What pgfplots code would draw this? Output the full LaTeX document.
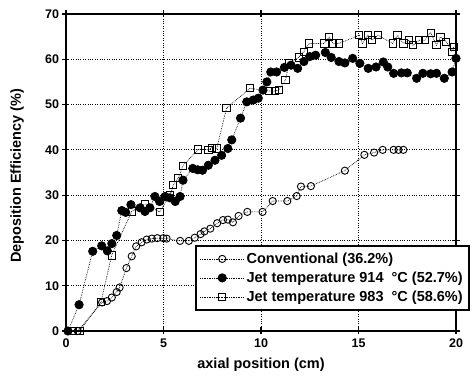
\documentclass[border=0pt]{standalone}
\usepackage{fontspec}
\setmainfont{Liberation Sans}
\usepackage{pgfplots}
\pgfplotsset{compat=1.18}
\begin{document}
\begin{tikzpicture}
\begin{axis}[
  scale only axis, width=390pt, height=317pt,
  at={(0,0)}, anchor=south west,
  xmin=0, xmax=20, ymin=0, ymax=70,
  xtick={0,5,10,15,20}, ytick={0,10,...,70},
  grid=major,
  major grid style={black, dotted, line width=0.8pt},
  axis line style={line width=1.6pt},
  tick style={black, line width=1.2pt},
  tick align=center, major tick length=7pt,
  /pgf/number format/assume math mode=true,
  ticklabel style={font=\fontsize{12.5}{13}\selectfont\bfseries},
  xticklabel style={yshift=-1pt},
  xlabel={axial position (cm)}, ylabel={Deposition Efficiency (\%)},
  label style={font=\fontsize{14.5}{16}\selectfont\bfseries},
  xlabel style={at={(axis description cs:0.5,-0.107)}, anchor=center},
  ylabel style={at={(axis description cs:-0.125,0.49)}, anchor=center},
  legend cell align=left,
  legend style={at={(0.331,0.271)}, anchor=north west, draw=black, line width=1.6pt,
    font=\fontsize{14.5}{16}\selectfont\bfseries, inner xsep=4pt, inner ysep=5pt,
    row sep=3pt, fill=white},
  legend image code/.code={\draw[mark repeat=2,mark phase=2] plot coordinates {(0pt,0pt) (22pt,0pt) (44pt,0pt)};},
]
\addplot[black, densely dotted, line width=0.7pt, mark=o, mark size=3.6pt, mark options={solid, line width=0.9pt, fill=white}] coordinates {
(0.6,0) (1.85,6.3) (2.1,6.6) (2.35,7.4) (2.6,8.6) (2.75,9.6) (3.1,13.9) (3.37,16.5) (3.6,18.7)
(3.88,19.6) (4.14,20.2) (4.4,20.4) (4.68,20.5) (4.99,20.5) (5.16,20.4) (5.85,19.9) (6.3,19.9)
(6.6,20.6) (6.9,21.4) (7.1,22) (7.4,22.6) (7.75,23.8) (8.05,24.5) (8.3,24.6) (8.56,24) (8.85,25.4)
(9.3,26.3) (10.08,26.3) (10.6,28.7) (11.35,28.7) (11.83,29.8) (12.05,31.9) (12.56,32) (14.3,35.4)
(15.3,38.9) (15.8,39.4) (16.24,40) (16.8,40) (17.05,40) (17.3,40)
};
\addlegendentry{Conventional (36.2\%)}
\addplot[black, densely dotted, line width=0.7pt, mark=*, mark size=4.2pt, mark options={solid, fill=black}] coordinates {
(0.1,0) (0.67,5.8) (1.37,17.6) (1.83,18.8) (2.12,17.7) (2.35,19.3) (2.6,21.1) (2.86,26.6) (3.06,26.2)
(3.33,27.9) (3.8,27.2) (4.05,26.4) (4.3,27.2) (4.56,29.7) (4.8,28.6) (5.08,29.7) (5.33,29.4) (5.6,28.6)
(5.85,29.7) (6.0,33.3) (6.5,35.9) (6.75,35.6) (7.0,35.5) (7.3,36.6) (7.64,37.7) (7.98,38.8) (8.3,40.3)
(8.5,42.2) (8.95,47) (9.27,50.6) (9.6,51) (9.86,51.4) (10.1,53.2) (10.3,55) (10.5,57.2) (10.8,57.2)
(11.2,58.2) (11.54,58.7) (11.88,58) (12.2,59.5) (12.5,60.6) (12.8,60.9) (13.3,61.5) (13.6,60.4)
(14.0,59.5) (14.3,59.2) (14.7,60.2) (15.07,59.1) (15.5,58) (15.9,58.3) (16.27,59.4) (16.5,58.3)
(16.8,56.9) (17.2,57) (17.5,57) (17.98,55.8) (18.3,56.9) (18.7,56.8) (19.0,56.9) (19.4,55.8)
(19.8,57.2) (20.0,60.2)
};
\addlegendentry{Jet temperature 914\ \ °C (52.7\%)}
\addplot[black, densely dotted, line width=0.7pt, mark=square, mark size=3.6pt, mark options={solid, line width=0.9pt, fill=white}] coordinates {
(0.3,0) (0.7,0) (1.8,6.5) (2.34,16.7) (3.37,26.4) (4.05,28) (4.8,26.3) (5.33,30) (5.5,32.2) (5.76,33.8)
(6.0,36.5) (6.78,40.1) (7.3,40) (7.47,40.5) (7.73,40.3) (8.23,49.2) (9.44,53.6) (10.4,53) (10.7,53)
(10.9,53.2) (11.25,55.4) (11.45,59.2) (11.93,60.4) (12.2,61.7) (12.47,63.5) (13.25,63.5) (13.5,64.9)
(13.7,63.5) (14.0,63.5) (15.04,65.3) (15.2,63.5) (15.47,65.3) (15.7,64.2) (16.0,65.3) (16.75,63.5)
(17.0,65.3) (17.3,63.5) (17.6,64.2) (17.8,63.1) (18.1,64.2) (18.4,64.2) (18.7,65.9) (19.0,63.1)
(19.2,64.9) (19.5,63.9) (19.8,61.7) (19.9,62.8)
};
\addlegendentry{Jet temperature 983\ \ °C (58.6\%)}
\end{axis}
\useasboundingbox (-66pt,-46pt) rectangle (410pt,331pt);
\end{tikzpicture}
\end{document}
